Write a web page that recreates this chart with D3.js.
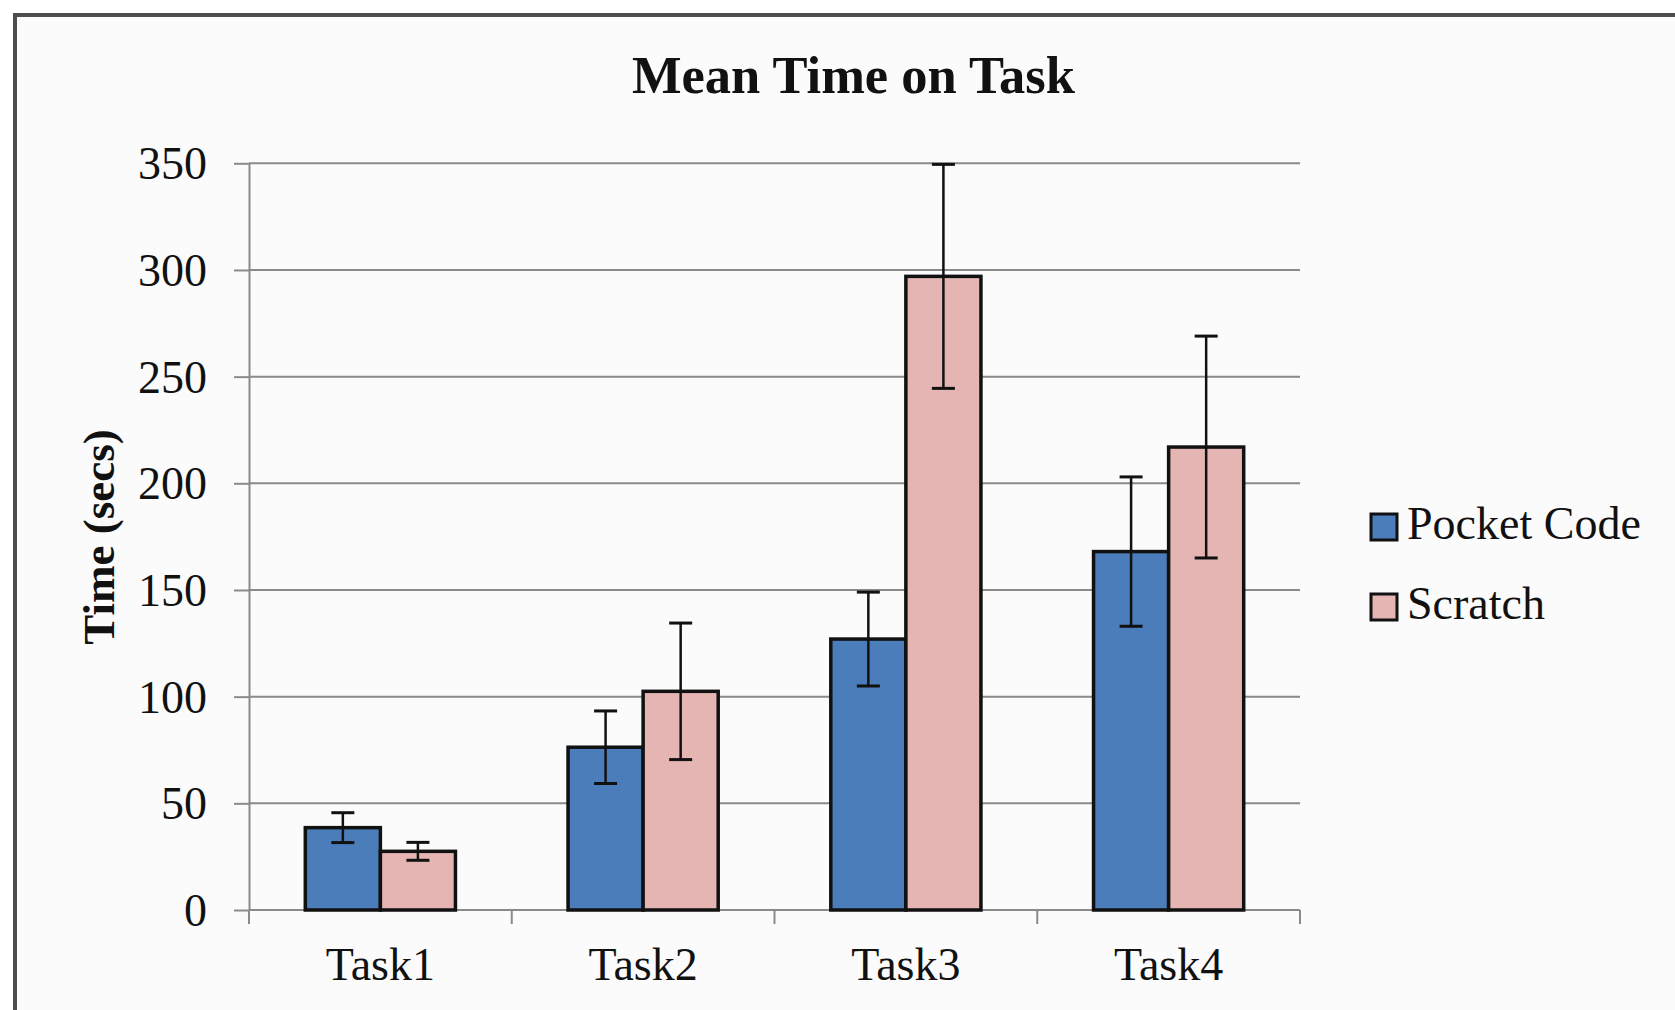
<!DOCTYPE html>
<html>
<head>
<meta charset="utf-8">
<script src="https://cdn.jsdelivr.net/npm/d3@7"></script>
<style>
  html, body { margin: 0; padding: 0; background: #ffffff; }
  svg { display: block; }
  text { font-family: "Liberation Serif", "Times New Roman", serif; fill: #111; }
</style>
</head>
<body>
<svg id="chart" width="1675" height="1010"></svg>
<script>
// ---- data ----
const categories = ["Task1", "Task2", "Task3", "Task4"];
const seriesNames = ["Pocket Code", "Scratch"];
const pocketCodeMeans = [38.6, 76.3, 127, 168];
const scratchMeans = [27.5, 102.5, 297, 217];
const pocketCodeErrors = [7, 17, 22, 35];
const scratchErrors = [4.2, 32, 52.5, 52];
const yTicks = [0, 50, 100, 150, 200, 250, 300, 350];
const chartTitle = "Mean Time on Task";
const yTitle = "Time (secs)";

(function () {
const colors = { "Pocket Code": "#4a7dba", "Scratch": "#e4b5b3" };

const rows = categories.map((c, i) => ({
  cat: c,
  values: [
    { name: "Pocket Code", v: pocketCodeMeans[i], e: pocketCodeErrors[i] },
    { name: "Scratch", v: scratchMeans[i], e: scratchErrors[i] }
  ]
}));

const svg = d3.select("#chart");

// chart area frame
svg.append("rect").attr("x", 15).attr("y", 15).attr("width", 1700).attr("height", 1040)
  .attr("fill", "#fbfbfb").attr("stroke", "#4d4d4d").attr("stroke-width", 4);

const pL = 249, pR = 1300, pT = 163.3, pB = 910;

const x0 = d3.scaleBand().domain(categories).range([pL, pR]).paddingInner(0).paddingOuter(0);
const x1 = d3.scaleBand().domain(seriesNames).range([0, x0.bandwidth()]).paddingInner(0).paddingOuter(0.75);
const y = d3.scaleLinear().domain([0, 350]).range([pB, pT]);

// gridlines
svg.append("g").selectAll("line").data(yTicks).join("line")
  .attr("x1", pL).attr("x2", pR)
  .attr("y1", d => y(d)).attr("y2", d => y(d))
  .attr("stroke", "#8a8a8a").attr("stroke-width", 2);

// y axis
const yAxis = svg.append("g").attr("transform", `translate(${pL},0)`)
  .call(d3.axisLeft(y).tickValues(yTicks).tickSize(15).tickPadding(27).tickSizeOuter(0));
yAxis.select(".domain").attr("stroke", "#8a8a8a").attr("stroke-width", 2);
yAxis.selectAll(".tick line").attr("stroke", "#8a8a8a").attr("stroke-width", 2);
yAxis.selectAll(".tick text")
  .attr("font-family", "Liberation Serif").attr("font-size", 46).attr("fill", "#111")
  .attr("dy", "0.34em");

// x axis baseline + boundary ticks
svg.append("line").attr("x1", pL).attr("x2", pR).attr("y1", y(0)).attr("y2", y(0))
  .attr("stroke", "#8a8a8a").attr("stroke-width", 2);
const boundaries = categories.map(c => x0(c)).concat([x0(categories[categories.length - 1]) + x0.bandwidth()]);
svg.append("g").selectAll("line").data(boundaries).join("line")
  .attr("x1", d => d).attr("x2", d => d)
  .attr("y1", y(0)).attr("y2", y(0) + 14)
  .attr("stroke", "#8a8a8a").attr("stroke-width", 2);

// x labels
svg.append("g").selectAll("text").data(categories).join("text")
  .attr("x", d => x0(d) + x0.bandwidth() / 2).attr("y", 980)
  .attr("text-anchor", "middle").attr("font-size", 46).text(d => d);

// bars
const groups = svg.append("g").selectAll("g").data(rows).join("g")
  .attr("transform", d => `translate(${x0(d.cat)},0)`);
groups.selectAll("rect").data(d => d.values).join("rect")
  .attr("x", d => x1(d.name)).attr("width", x1.bandwidth())
  .attr("y", d => y(d.v)).attr("height", d => y(0) - y(d.v))
  .attr("fill", d => colors[d.name]).attr("stroke", "#111").attr("stroke-width", 3.5);

// error bars
const capHalf = 11.5;
const eb = groups.selectAll("g.err").data(d => d.values).join("g").attr("class", "err");
const cx = d => x1(d.name) + x1.bandwidth() / 2;
eb.append("line")
  .attr("x1", cx).attr("x2", cx)
  .attr("y1", d => y(d.v + d.e)).attr("y2", d => y(d.v - d.e))
  .attr("stroke", "#111").attr("stroke-width", 2.5);
eb.append("line")
  .attr("x1", d => cx(d) - capHalf).attr("x2", d => cx(d) + capHalf)
  .attr("y1", d => y(d.v + d.e)).attr("y2", d => y(d.v + d.e))
  .attr("stroke", "#111").attr("stroke-width", 3);
eb.append("line")
  .attr("x1", d => cx(d) - capHalf).attr("x2", d => cx(d) + capHalf)
  .attr("y1", d => y(d.v - d.e)).attr("y2", d => y(d.v - d.e))
  .attr("stroke", "#111").attr("stroke-width", 3);

// title
svg.append("text").attr("x", 853.5).attr("y", 93).attr("text-anchor", "middle")
  .attr("font-size", 52.5).attr("font-weight", "bold").text(chartTitle);

// y title
svg.append("text").attr("transform", "translate(114,537) rotate(-90)")
  .attr("text-anchor", "middle").attr("font-size", 45).attr("font-weight", "bold").text(yTitle);

// legend
const legend = svg.append("g").selectAll("g").data(seriesNames).join("g")
  .attr("transform", (d, i) => `translate(1371,${514 + i * 80})`);
legend.append("rect").attr("width", 26).attr("height", 26)
  .attr("fill", d => colors[d]).attr("stroke", "#111").attr("stroke-width", 3);
legend.append("text").attr("x", 36).attr("y", 25).attr("font-size", 46).text(d => d);
})();
</script>
</body>
</html>
